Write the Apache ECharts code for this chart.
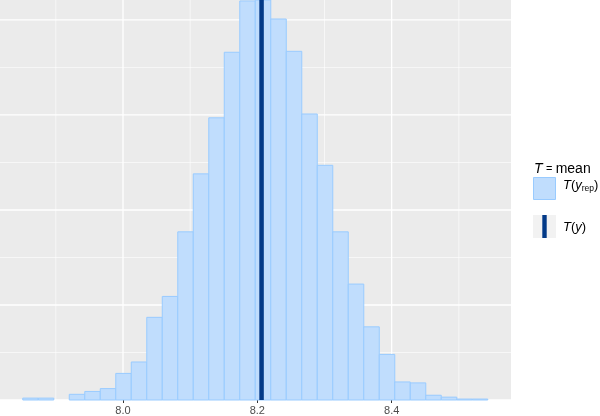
<!DOCTYPE html>
<html>
<head>
<meta charset="utf-8">
<script src="https://cdn.jsdelivr.net/npm/echarts@6/dist/echarts.min.js"></script>
<style>
html,body{margin:0;padding:0;background:#fff;}
#chart{width:600px;height:416px;}
</style>
</head>
<body>
<div id="chart"></div>
<script>
// ---- data ----
const binStart = 7.8508;       // left edge of first bin
const binWidth = 0.023076;     // histogram bin width
const counts = [2, 2, 0, 6, 9, 12, 28, 40, 87, 109, 177, 238, 297, 366, 420,
                421, 401, 367, 301, 247, 177, 122, 77, 48, 19, 18, 5, 3, 1, 1];
const observedMean = 8.2063;   // T(y)
const xTickLabels = [8.0, 8.2, 8.4];
const xMinorBreaks = [7.9, 8.1, 8.3, 8.5];
const yMajorBreaks = [0, 100, 200, 300, 400];
const yMinorBreaks = [50, 150, 250, 350];
const xRange = [7.81689, 8.57765];
const yMax = 421;

// ---- build ----
const histData = counts.map((c, i) => [binStart + i * binWidth, binStart + (i + 1) * binWidth, c]);
// grid lines: [orientation (0 = vertical, 1 = horizontal), value, lineWidth]
const gridData = []
  .concat(xMinorBreaks.map(v => [0, v, 0.6]))
  .concat(yMinorBreaks.map(v => [1, v, 0.6]))
  .concat(xTickLabels.map(v => [0, v, 1.3]))
  .concat(yMajorBreaks.map(v => [1, v, 1.3]));

const FILL = '#c0ddfd', EDGE = '#99cbff', DARK = '#033a88';
const FONT = '"Liberation Sans", Arial, Helvetica, sans-serif';

const chart = echarts.init(document.getElementById('chart'), null, { renderer: 'canvas' });

chart.setOption({
  animation: false,
  textStyle: { fontFamily: FONT },
  grid: {
    left: 0, top: 0, width: 511, height: 400,
    show: true, backgroundColor: '#EBEBEB', borderWidth: 0,
    outerBoundsMode: 'none', containLabel: false
  },
  xAxis: {
    type: 'value', min: xRange[0], max: xRange[1],
    axisLine: { show: false },
    splitLine: { show: false },
    axisTick: { show: true, customValues: xTickLabels, length: 3, lineStyle: { color: '#333333', width: 1 } },
    axisLabel: {
      show: true, customValues: xTickLabels, color: '#4D4D4D', fontSize: 11, margin: 5,
      fontFamily: FONT,
      formatter: (v) => v.toFixed(1)
    }
  },
  yAxis: {
    type: 'value', min: 0, max: yMax,
    axisLine: { show: false }, axisTick: { show: false }, axisLabel: { show: false }, splitLine: { show: false }
  },
  series: [
    {
      type: 'custom', z: 1, silent: true, clip: true,
      data: gridData,
      encode: { x: 1 },
      renderItem: function (params, api) {
        const o = api.value(0), v = api.value(1), w = api.value(2);
        let p0, p1;
        if (o === 0) { p0 = api.coord([v, 0]); p1 = api.coord([v, yMax]); }
        else { p0 = api.coord([xRange[0], v]); p1 = api.coord([xRange[1], v]); }
        return {
          type: 'line',
          shape: { x1: p0[0], y1: p0[1], x2: p1[0], y2: p1[1] },
          style: { stroke: '#ffffff', lineWidth: w }
        };
      }
    },
    {
      type: 'custom', z: 2, silent: true,
      data: histData,
      encode: { x: [0, 1], y: 2 },
      renderItem: function (params, api) {
        const c = api.value(2);
        if (!c) return null;
        const p0 = api.coord([api.value(0), c]);
        const p1 = api.coord([api.value(1), 0]);
        return {
          type: 'rect',
          shape: { x: p0[0], y: p0[1], width: p1[0] - p0[0], height: p1[1] - p0[1] },
          style: { fill: FILL, stroke: EDGE, lineWidth: 1 }
        };
      }
    },
    {
      type: 'custom', z: 3, silent: true,
      data: [[observedMean]],
      encode: { x: 0 },
      renderItem: function (params, api) {
        const p0 = api.coord([api.value(0), yMax]);
        const p1 = api.coord([api.value(0), 0]);
        return {
          type: 'rect',
          shape: { x: p0[0] - 2.25, y: p0[1], width: 4.5, height: p1[1] - p0[1] },
          style: { fill: DARK }
        };
      }
    }
  ],
  graphic: [
    {
      type: 'text', left: 534, top: 162,
      style: {
        text: '{i|T} {eq|=} {n|mean}',
        rich: {
          i: { fontStyle: 'italic', fontSize: 14, fill: '#000', fontFamily: FONT },
          eq: { fontSize: 11, fill: '#000', fontFamily: FONT },
          n: { fontSize: 14, fill: '#000', fontFamily: FONT }
        }
      }
    },
    {
      type: 'rect', shape: { x: 533.5, y: 177.5, width: 22, height: 22 },
      style: { fill: FILL, stroke: EDGE, lineWidth: 1 }
    },
    {
      type: 'text', left: 563, top: 179,
      style: {
        text: '{i|T}{n|(}{i|y}{s|rep}{n|)}',
        rich: {
          i: { fontStyle: 'italic', fontSize: 13, fill: '#000', fontFamily: FONT, lineHeight: 16, verticalAlign: 'middle' },
          n: { fontSize: 13, fill: '#000', fontFamily: FONT, lineHeight: 16, verticalAlign: 'middle' },
          s: { fontSize: 8.5, fill: '#000', fontFamily: FONT, lineHeight: 16, verticalAlign: 'bottom', padding: [3, 0, 0, 0] }
        }
      }
    },
    {
      type: 'rect', shape: { x: 533, y: 215, width: 23, height: 23 },
      style: { fill: '#F2F2F2' }
    },
    {
      type: 'rect', shape: { x: 542.3, y: 215, width: 4.4, height: 23 },
      style: { fill: DARK }
    },
    {
      type: 'text', left: 563, top: 221,
      style: {
        text: '{i|T}{n|(}{i|y}{n|)}',
        rich: {
          i: { fontStyle: 'italic', fontSize: 13, fill: '#000', fontFamily: FONT },
          n: { fontSize: 13, fill: '#000', fontFamily: FONT }
        }
      }
    }
  ]
});
</script>
</body>
</html>
